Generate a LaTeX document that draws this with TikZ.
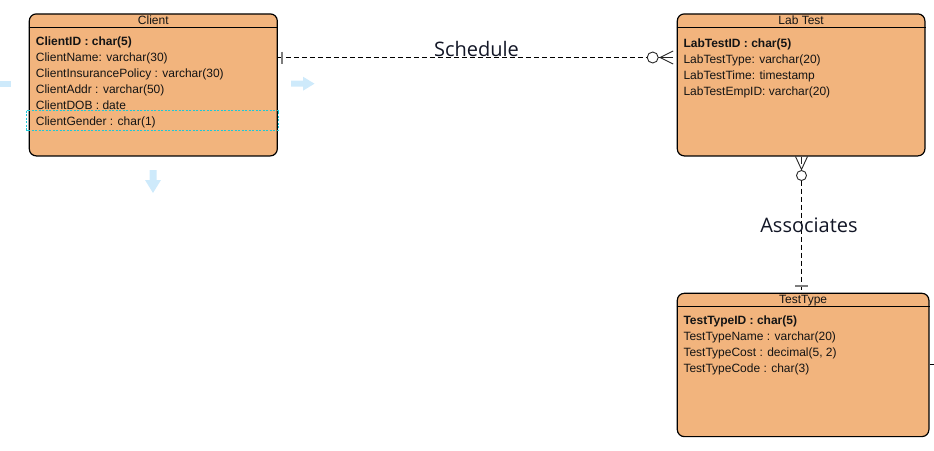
\documentclass[tikz,border=0pt]{standalone}
\usepackage{fontspec}
\setmainfont{Liberation Sans}
\newfontfamily\labelfont{Open Sans}
\usetikzlibrary{calc}

\definecolor{entityfill}{RGB}{242,180,125}
\definecolor{hintblue}{RGB}{206,234,251}
\definecolor{tickgray}{RGB}{125,125,125}
\definecolor{relcol}{RGB}{18,22,38}
\definecolor{selcyan}{RGB}{30,200,215}

\tikzset{
  entity/.style={draw=black, line width=1.2pt, fill=entityfill, rounded corners=7pt,
    anchor=north west, inner sep=0pt},
  headrule/.style={draw=black, line width=1.1pt},
  title/.style={anchor=base, inner sep=0pt, font=\fontsize{12}{14}\selectfont, text=black!92},
  field/.style={anchor=base west, inner sep=0pt, font=\fontsize{12}{14}\selectfont, text=black!92},
  keyfield/.style={field, font=\fontsize{12}{14}\selectfont\bfseries},
  rel/.style={draw=black, line width=0.8pt, dash pattern=on 5pt off 3pt},
  relname/.style={anchor=base, inner sep=0pt, font=\labelfont\fontsize{20}{24}\selectfont, text=relcol},
  crow/.style={draw=black!85, line width=0.9pt},
  onetick/.style={draw=tickgray, line width=1.6pt},
  selbox/.style={draw=selcyan, line width=0.8pt, dash pattern=on 2pt off 1.5pt},
  hint/.style={fill=hintblue, draw=none}
}

\begin{document}
\begin{tikzpicture}[x=1pt,y=-1pt]
  \useasboundingbox (0,0) rectangle (934,450);

  % ---------------- Client entity ----------------
  \node[entity, minimum width=248pt, minimum height=142pt] (client) at (28.7,13.3) {};
  \draw[headrule] ($(client.north west)+(0,14)$) -- ($(client.north east)+(0,14)$);
  \node[title] (clientT) at ($(client.north)+(0,11)$) {Client};
  \node[keyfield] (c1) at ($(client.north west)+(7,32.2)$) {ClientID : char(5)};
  \node[field] (c2) at ($(c1.base west)+(0,16)$) {ClientName: varchar(30)};
  \node[field] (c3) at ($(c2.base west)+(0,16)$) {ClientInsurancePolicy : varchar(30)};
  \node[field] (c4) at ($(c3.base west)+(0,16)$) {ClientAddr : varchar(50)};
  \node[field] (c5) at ($(c4.base west)+(0,16)$) {ClientDOB : date};
  \node[field] (c6) at ($(c5.base west)+(0,16)$) {ClientGender : char(1)};
  \draw[selbox] (26.7,110.7) rectangle (278.7,130);

  % ---------------- Lab Test entity ----------------
  \node[entity, minimum width=247.6pt, minimum height=142pt] (labtest) at (676.7,13.3) {};
  \draw[headrule] ($(labtest.north west)+(0,14)$) -- ($(labtest.north east)+(0,14)$);
  \node[title] (labtestT) at ($(labtest.north)+(0,11)$) {Lab Test};
  \node[keyfield] (l1) at ($(labtest.north west)+(6.6,34)$) {LabTestID : char(5)};
  \node[field] (l2) at ($(l1.base west)+(0,16)$) {LabTestType: varchar(20)};
  \node[field] (l3) at ($(l2.base west)+(0,16)$) {LabTestTime: timestamp};
  \node[field] (l4) at ($(l3.base west)+(0,16)$) {LabTestEmpID: varchar(20)};

  % ---------------- TestType entity ----------------
  \node[entity, minimum width=251.6pt, minimum height=143.3pt] (testtype) at (676.7,292.7) {};
  \draw[headrule] ($(testtype.north west)+(0,14)$) -- ($(testtype.north east)+(0,14)$);
  \node[title] (testtypeT) at ($(testtype.north)+(0,10.5)$) {TestType};
  \node[keyfield] (t1) at ($(testtype.north west)+(6.6,32)$) {TestTypeID : char(5)};
  \node[field] (t2) at ($(t1.base west)+(0,16)$) {TestTypeName : varchar(20)};
  \node[field] (t3) at ($(t2.base west)+(0,16)$) {TestTypeCost : decimal(5, 2)};
  \node[field] (t4) at ($(t3.base west)+(0,16)$) {TestTypeCode : char(3)};
  \coordinate (stub) at (934,364);
  \draw[black, line width=0.9pt] (testtype.east |- stub) -- (stub);

  % ---------------- Schedule: Client (one) -- Lab Test (zero or many) ----------------
  \coordinate (schedrow) at (0,57.5);
  \coordinate (schedA) at (client.east |- schedrow);
  \coordinate (schedB) at (labtest.west |- schedrow);
  \coordinate (schedO) at ($(schedB)+(-24,0)$);
  \coordinate (schedV) at ($(schedB)+(-16.7,0)$);
  \draw[rel] (schedA) -- ($(schedO)+(-5.5,0)$);
  \draw[onetick] ($(schedA)+(4.3,-6)$) -- ($(schedA)+(4.3,6)$);
  \draw[crow] (schedO) circle[radius=5.5pt];
  \draw[crow] ($(schedO)+(5.5,0)$) -- (schedV);
  \draw[crow] ($(schedB)+(-3.5,-6.5)$) -- (schedV) -- ($(schedB)+(-3.5,6.5)$);
  \draw[crow] (schedV) -- ($(schedB)+(-3.5,0)$);
  \node[relname] (schedule) at (476.5,56) {Schedule};

  % ---------------- Associates: Lab Test (zero or many) -- TestType (one) ----------------
  \coordinate (asscol) at (801.5,0);
  \coordinate (assA) at (labtest.south -| asscol);
  \coordinate (assB) at (testtype.north -| asscol);
  \coordinate (assV) at ($(assA)+(0,13)$);
  \coordinate (assO) at ($(assA)+(0,19)$);
  \draw[crow] ($(assA)+(-6,0)$) -- (assV) -- ($(assA)+(6,0)$);
  \draw[crow] (assA) -- ($(assA)+(0,7)$);
  \draw[crow] ($(assO)+(0,-5)$) -- (assV);
  \draw[crow] (assO) circle[radius=5pt];
  \draw[rel] ($(assO)+(0,5)$) -- (assB);
  \draw[onetick] ($(assB)+(-6.5,-7)$) -- ($(assB)+(6.5,-7)$);
  \node[relname] (associates) at (809,232.5) {Associates};

  % ---------------- faint direction hints ----------------
  \fill[hint] (0,80.7) rectangle (11,86.7);
  \fill[hint] (291,80.7) -- (303,80.7) -- (303,76.7) -- (314.5,83.7) -- (303,90.7) -- (303,86.7) -- (291,86.7) -- cycle;
  \fill[hint] (149.5,170) -- (156.5,170) -- (156.5,180) -- (161,180) -- (153,193) -- (145,180) -- (149.5,180) -- cycle;
\end{tikzpicture}
\end{document}
